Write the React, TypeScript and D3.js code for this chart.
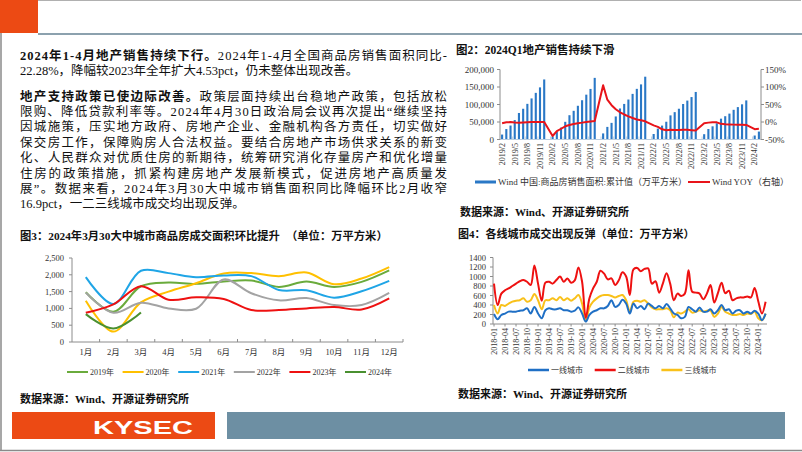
import React from "react";
import * as d3 from "d3";

const SERIF = "'Liberation Serif','Noto Sans CJK SC',serif";
const SANS = "'Liberation Sans','Noto Sans CJK SC',sans-serif";

// ---------------- Text block ----------------
const para1: [string, string][] = [
  ["2024年1-4月地产销售持续下行。", "2024年1-4月全国商品房销售面积同比-"],
  ["", "22.28%，降幅较2023年全年扩大4.53pct，仍未整体出现改善。"],
];
const para2: [string, string][] = [
  ["地产支持政策已使边际改善。", "政策层面持续出台稳地产政策，包括放松"],
  ["", "限购、降低贷款利率等。2024年4月30日政治局会议再次提出“继续坚持"],
  ["", "因城施策，压实地方政府、房地产企业、金融机构各方责任，切实做好"],
  ["", "保交房工作，保障购房人合法权益。要结合房地产市场供求关系的新变"],
  ["", "化、人民群众对优质住房的新期待，统筹研究消化存量房产和优化增量"],
  ["", "住房的政策措施，抓紧构建房地产发展新模式，促进房地产高质量发"],
  ["", "展”。数据来看，2024年3月30大中城市销售面积同比降幅环比2月收窄"],
  ["", "16.9pct，一二三线城市成交均出现反弹。"],
];

// ---------------- Chart 2 data ----------------
const c2Months = [
  "2019/2","2019/3","2019/4","2019/5","2019/6","2019/7","2019/8","2019/9","2019/10","2019/11","2019/12",
  "2020/1","2020/2","2020/3","2020/4","2020/5","2020/6","2020/7","2020/8","2020/9","2020/10","2020/11","2020/12",
  "2021/1","2021/2","2021/3","2021/4","2021/5","2021/6","2021/7","2021/8","2021/9","2021/10","2021/11","2021/12",
  "2022/1","2022/2","2022/3","2022/4","2022/5","2022/6","2022/7","2022/8","2022/9","2022/10","2022/11","2022/12",
  "2023/1","2023/2","2023/3","2023/4","2023/5","2023/6","2023/7","2023/8","2023/9","2023/10","2023/11","2023/12",
  "2024/1","2024/2","2024/3",
];
const c2Area: (number | null)[] = [
  14102, 29829, 39907, 55518, 75786, 87846, 101849, 117378, 133251, 148905, 171558,
  null, 8475, 21978, 33973, 50536, 69404, 81973, 96355, 112219, 128111, 144479, 176086,
  null, 17363, 36007, 47514, 65862, 88635, 101643, 114193, 130332, 144696, 157431, 179433,
  null, 15703, 31046, 39768, 50738, 68923, 78178, 87890, 101422, 111179, 121250, 135837,
  null, 15133, 29946, 37636, 46440, 59515, 66563, 73949, 84806, 92579, 100509, 111735,
  null, 11369, 22668,
];
const c2Yoy: (number | null)[] = [
  -3.6, -0.9, -0.3, -1.6, -1.8, -1.3, -0.6, -0.1, 0.1, 0.2, -0.1,
  null, -39.9, -26.3, -19.3, -12.3, -8.4, -5.8, -3.3, -1.8, 0.0, 1.3, 2.6,
  null, 104.9, 63.8, 48.1, 36.3, 27.7, 21.5, 15.9, 11.3, 7.3, 4.8, 1.9,
  null, -9.6, -13.8, -20.9, -23.6, -22.2, -23.1, -23.0, -22.2, -22.3, -23.3, -24.3,
  null, -3.6, -1.8, -0.4, -0.9, -5.3, -6.5, -7.1, -7.5, -7.8, -8.0, -8.5,
  null, -20.5, -19.4,
];
const c2LeftTicks = [0, 50000, 100000, 150000, 200000];
const c2RightTicks = [-50, 0, 50, 100, 150];
const c2LegendBar = "Wind 中国:商品房销售面积:累计值（万平方米）";
const c2LegendLine = "Wind YOY（右轴）";

// ---------------- Chart 3 data ----------------
const c3Months = ["1月","2月","3月","4月","5月","6月","7月","8月","9月","10月","11月","12月"];
const c3Y2019 = [1480, 900, 1660, 1770, 1730, 1800, 1830, 1640, 1800, 1640, 1790, 2130];
const c3Y2020 = [1230, 310, 1180, 1500, 1750, 2040, 2050, 1960, 2070, 1720, 1890, 2230];
const c3Y2021 = [1930, 1130, 2120, 2050, 1930, 1980, 1960, 1550, 1540, 1320, 1510, 1820];
const c3Y2022 = [1470, 870, 1170, 1000, 990, 1860, 1450, 1240, 1310, 1100, 1100, 1460];
const c3Y2023 = [870, 1120, 1660, 1260, 1330, 1280, 950, 950, 1000, 1040, 970, 1300];
const c3Y2024 = [830, 400, 880];
const c3Names = ["2019年", "2020年", "2021年", "2022年", "2023年", "2024年"];
const c3Ticks = [0, 500, 1000, 1500, 2000, 2500];

// ---------------- Chart 4 data ----------------
const c4Months = [
  "2018-01","2018-02","2018-03","2018-04","2018-05","2018-06","2018-07","2018-08","2018-09","2018-10","2018-11","2018-12",
  "2019-01","2019-02","2019-03","2019-04","2019-05","2019-06","2019-07","2019-08","2019-09","2019-10","2019-11","2019-12",
  "2020-01","2020-02","2020-03","2020-04","2020-05","2020-06","2020-07","2020-08","2020-09","2020-10","2020-11","2020-12",
  "2021-01","2021-02","2021-03","2021-04","2021-05","2021-06","2021-07","2021-08","2021-09","2021-10","2021-11","2021-12",
  "2022-01","2022-02","2022-03","2022-04","2022-05","2022-06","2022-07","2022-08","2022-09","2022-10","2022-11","2022-12",
  "2023-01","2023-02","2023-03","2023-04","2023-05","2023-06","2023-07","2023-08","2023-09","2023-10","2023-11","2023-12",
  "2024-01","2024-02","2024-03",
];
const c4Tier1 = [
  210, 100, 190, 220, 260, 260, 260, 280, 290, 330, 220, 360,
  220, 120, 290, 330, 310, 310, 330, 290, 290, 260, 280, 350,
  220, 50, 190, 260, 290, 330, 330, 380, 500, 360, 400, 510,
  430, 220, 430, 330, 380, 310, 430, 380, 330, 380, 330, 420,
  330, 220, 190, 120, 150, 360, 310, 260, 350, 260, 260, 310,
  220, 290, 400, 290, 310, 220, 280, 290, 220, 260, 220, 280,
  220, 80, 220,
];
const c4Tier2 = [
  850, 400, 640, 710, 750, 800, 850, 900, 925, 890, 820, 1230,
  850, 490, 870, 890, 850, 925, 1000, 890, 960, 870, 920, 1190,
  890, 130, 540, 750, 890, 1120, 1060, 940, 960, 820, 920, 1090,
  1000, 610, 1150, 1180, 1110, 1160, 1170, 850, 900, 660, 850, 1070,
  850, 500, 640, 590, 640, 1130, 680, 660, 640, 520, 640, 820,
  450, 650, 870, 650, 700, 500, 540, 560, 560, 580, 560, 760,
  480, 220, 470,
];
const c4Tier3 = [
  400, 220, 400, 380, 430, 470, 490, 500, 540, 470, 500, 630,
  500, 310, 500, 500, 540, 500, 570, 500, 540, 490, 540, 610,
  430, 60, 350, 470, 540, 590, 610, 610, 590, 560, 590, 610,
  500, 260, 470, 490, 470, 500, 430, 350, 310, 310, 310, 330,
  290, 140, 240, 220, 260, 310, 240, 260, 290, 260, 280, 280,
  150, 220, 360, 260, 220, 190, 190, 210, 190, 220, 210, 260,
  120, 80, 220,
];
const c4Names = ["一线城市", "二线城市", "三线城市"];
const c4Ticks = [0, 200, 400, 600, 800, 1000, 1200, 1400];

const SOURCE = "数据来源：Wind、开源证券研究所";
const AXIS = "#8c8c8c";
const TXT = "#333";

function Paragraph({ lines, y0, step }: { lines: [string, string][]; y0: number; step: number }) {
  return (
    <g fontFamily={SERIF} fontSize={12.5} fill="#111">
      {lines.map((l, i) => {
        const last = i === lines.length - 1;
        const props: any = last ? {} : { textLength: 427, lengthAdjust: "spacing" };
        return (
          <text key={i} x={20} y={y0 + i * step + 4.5} {...props}>
            {l[0] ? <tspan fontWeight="bold">{l[0]}</tspan> : null}
            <tspan>{l[1]}</tspan>
          </text>
        );
      })}
    </g>
  );
}

function Chart2() {
  const x = d3.scaleBand<string>().domain(c2Months).range([500, 761]).paddingInner(0.5).paddingOuter(0.25);
  const yL = d3.scaleLinear().domain([0, 200000]).range([139.5, 69.5]);
  const yR = d3.scaleLinear().domain([-50, 150]).range([139.5, 69.5]);
  const bw = x.bandwidth();
  const pts: [number, number][] = [];
  c2Months.forEach((m, i) => {
    const v = c2Yoy[i];
    if (v != null) pts.push([(x(m) as number) + bw / 2, yR(v)]);
  });
  const line = d3.line()(pts) || "";
  const fmt = d3.format(",");
  const step = x.step();
  return (
    <g fontFamily={SERIF}>
      <text x={456} y={54} fontSize={11.5} fontWeight="bold" fill="#111">图2：2024Q1地产销售持续下滑</text>
      {c2Months.map((m, i) => {
        const v = c2Area[i];
        if (v == null) return null;
        return <rect key={m} x={x(m)} y={yL(v)} width={bw} height={yL(0) - yL(v)} fill="#2a78c6" />;
      })}
      <line x1={500} x2={761} y1={139.5} y2={139.5} stroke="#b9cde0" strokeWidth={1} />
      {c2Months.map((m, i) =>
        i % 3 === 0 && i > 0 ? (
          <line key={"t" + m} x1={(x(m) as number) - step * 0.25} x2={(x(m) as number) - step * 0.25} y1={139.5} y2={136.5} stroke="#c5d3e0" />
        ) : null
      )}
      <path d={line} fill="none" stroke="#e8141a" strokeWidth={2} strokeLinejoin="round" />
      <line x1={500} x2={500} y1={69.5} y2={139.5} stroke={AXIS} />
      <line x1={761} x2={761} y1={69.5} y2={139.5} stroke={AXIS} />
      {c2LeftTicks.map((t) => (
        <g key={"l" + t}>
          <line x1={497} x2={500} y1={yL(t)} y2={yL(t)} stroke={AXIS} />
          <text x={494} y={yL(t) + 3.2} fontSize={9} textAnchor="end" fill={TXT}>{fmt(t)}</text>
        </g>
      ))}
      {c2RightTicks.map((t) => (
        <g key={"r" + t}>
          <line x1={761} x2={764} y1={yR(t)} y2={yR(t)} stroke={AXIS} />
          <text x={765} y={yR(t) + 3.2} fontSize={9} textAnchor="start" fill={TXT}>{t + "%"}</text>
        </g>
      ))}
      {c2Months.map((m, i) =>
        i % 3 === 0 ? (
          <text key={"x" + m} transform={`translate(${(x(m) as number) + bw / 2 + 2.8},143) rotate(-90)`} fontSize={8} textAnchor="end" fill={TXT}>{m}</text>
        ) : null
      )}
      <rect x={475} y={180.5} width={21} height={3} fill="#2a78c6" />
      <text x={498} y={185} fontSize={9} fill={TXT}>{c2LegendBar}</text>
      <line x1={688} x2={710} y1={182} y2={182} stroke="#e8141a" strokeWidth={2} />
      <text x={712} y={185} fontSize={9} fill={TXT}>{c2LegendLine}</text>
      <text x={460} y={216} fontSize={11} fontWeight="bold" fill="#111">{SOURCE}</text>
    </g>
  );
}

function Chart3() {
  const x = d3.scaleBand<string>().domain(c3Months).range([72, 403]);
  const y = d3.scaleLinear().domain([0, 2500]).range([342, 258]);
  const cx = (i: number) => (x(c3Months[i]) as number) + x.bandwidth() / 2;
  const series = [c3Y2019, c3Y2020, c3Y2021, c3Y2022, c3Y2023, c3Y2024];
  const colors = ["#6aab3c", "#ffc000", "#1fa5e6", "#a3a3a3", "#ee1111", "#4a9030"];
  const gen = d3.line<number>().x((_, i) => cx(i)).y((d) => y(d)).curve(d3.curveCatmullRom.alpha(0.5));
  const fmt = d3.format(",");
  return (
    <g fontFamily={SERIF}>
      <text x={20} y={240} fontSize={11.3} fontWeight="bold" fill="#111">图3：2024年3月30大中城市商品房成交面积环比提升</text>
      <text x={286} y={240} fontSize={11.3} fontWeight="bold" fill="#111">（单位：万平方米）</text>
      {c3Ticks.map((t) => (
        <g key={t}>
          <line x1={69} x2={72} y1={y(t)} y2={y(t)} stroke={AXIS} />
          <text x={64} y={y(t) + 3} fontSize={8.5} textAnchor="end" fill={TXT}>{fmt(t)}</text>
        </g>
      ))}
      <line x1={72} x2={72} y1={258} y2={342} stroke={AXIS} />
      <line x1={72} x2={403} y1={342} y2={342} stroke={AXIS} />
      {c3Months.map((m) => (
        <line key={"t" + m} x1={(x(m) as number) + x.bandwidth()} x2={(x(m) as number) + x.bandwidth()} y1={342} y2={339} stroke={AXIS} />
      ))}
      {c3Months.map((m, i) => (
        <text key={m} x={cx(i)} y={355} fontSize={8.5} textAnchor="middle" fill={TXT}>{m}</text>
      ))}
      {series.map((s, k) => (
        <path key={k} d={gen(s) || ""} fill="none" stroke={colors[k]} strokeWidth={2} />
      ))}
      {c3Names.map((n, k) => (
        <g key={n}>
          <line x1={67 + k * 55.6} x2={88 + k * 55.6} y1={372} y2={372} stroke={colors[k]} strokeWidth={2} />
          <text x={90 + k * 55.6} y={375} fontSize={8} fill={TXT}>{n}</text>
        </g>
      ))}
      <text x={20} y={403} fontSize={11} fontWeight="bold" fill="#111">{SOURCE}</text>
    </g>
  );
}

function Chart4() {
  const x = d3.scalePoint<string>().domain(c4Months).range([494, 765.6]);
  const y = d3.scaleLinear().domain([0, 1400]).range([324, 257.5]);
  const series = [c4Tier1, c4Tier2, c4Tier3];
  const colors = ["#1f6fc5", "#ee1111", "#f9c11a"];
  const gen = d3.line<number>().x((_, i) => x(c4Months[i]) as number).y((d) => y(d)).curve(d3.curveCatmullRom.alpha(0.5));
  const order = [2, 0, 1];
  return (
    <g fontFamily={SERIF}>
      <text x={458} y={238} fontSize={11} fontWeight="bold" fill="#111">图4：各线城市成交出现反弹（单位：万平方米）</text>
      {c4Ticks.map((t) => (
        <g key={t}>
          <line x1={490} x2={493} y1={y(t)} y2={y(t)} stroke={AXIS} />
          <text x={486} y={y(t) + 3} fontSize={8.5} textAnchor="end" fill={TXT}>{t}</text>
        </g>
      ))}
      <line x1={493} x2={493} y1={257.5} y2={324} stroke={AXIS} />
      <line x1={493} x2={767} y1={324} y2={324} stroke={AXIS} />
      {order.map((k) => (
        <path key={k} d={gen(series[k]) || ""} fill="none" stroke={colors[k]} strokeWidth={2} />
      ))}
      {c4Months.map((m, i) =>
        i % 3 === 0 ? (
          <g key={m}>
            <line x1={x(m)} x2={x(m)} y1={324} y2={326.5} stroke={AXIS} />
            <text transform={`translate(${(x(m) as number) + 2.8},328) rotate(-90)`} fontSize={8} textAnchor="end" fill={TXT}>{m}</text>
          </g>
        ) : null
      )}
      {c4Names.map((n, k) => (
        <g key={n}>
          <line x1={528 + k * 66.7} x2={549 + k * 66.7} y1={370} y2={370} stroke={colors[k]} strokeWidth={2.5} />
          <text x={551 + k * 66.7} y={373} fontSize={8} fill={TXT}>{n}</text>
        </g>
      ))}
      <text x={458} y={398} fontSize={11} fontWeight="bold" fill="#111">{SOURCE}</text>
    </g>
  );
}

export default function App() {
  return (
    <svg width={802} height={452} style={{ position: "absolute", left: 0, top: 0, display: "block", background: "#fff" }}>
      <rect x={0} y={0} width={802} height={452} fill="#fff" />
      {/* frame */}
      <line x1={0.5} x2={801} y1={0.5} y2={0.5} stroke="#b0b0b0" />
      <line x1={1} x2={1} y1={0} y2={451} stroke="#8a8a8a" strokeWidth={1.5} />
      <line x1={0} x2={802} y1={450.5} y2={450.5} stroke="#8a8a8a" strokeWidth={1.5} />
      {/* header */}
      <rect x={0} y={0} width={38} height={33} fill="#ec4a14" />
      <line x1={38} x2={802} y1={34} y2={34} stroke="#8ca1ae" strokeWidth={2} />
      <Paragraph lines={para1} y0={55} step={15.4} />
      <Paragraph lines={para2} y0={96} step={15.4} />
      <Chart2 />
      <Chart3 />
      <Chart4 />
      {/* footer */}
      <rect x={12} y={412} width={203} height={27} fill="#ec4a14" />
      <text x={143} y={433.5} fontFamily={SANS} fontWeight={900} fontSize={19} fill="#fff" textAnchor="middle" textLength={100} lengthAdjust="spacingAndGlyphs">KYSEC</text>
      <rect x={227} y={412} width={558} height={27} fill="#6d8fa3" />
    </svg>
  );
}
